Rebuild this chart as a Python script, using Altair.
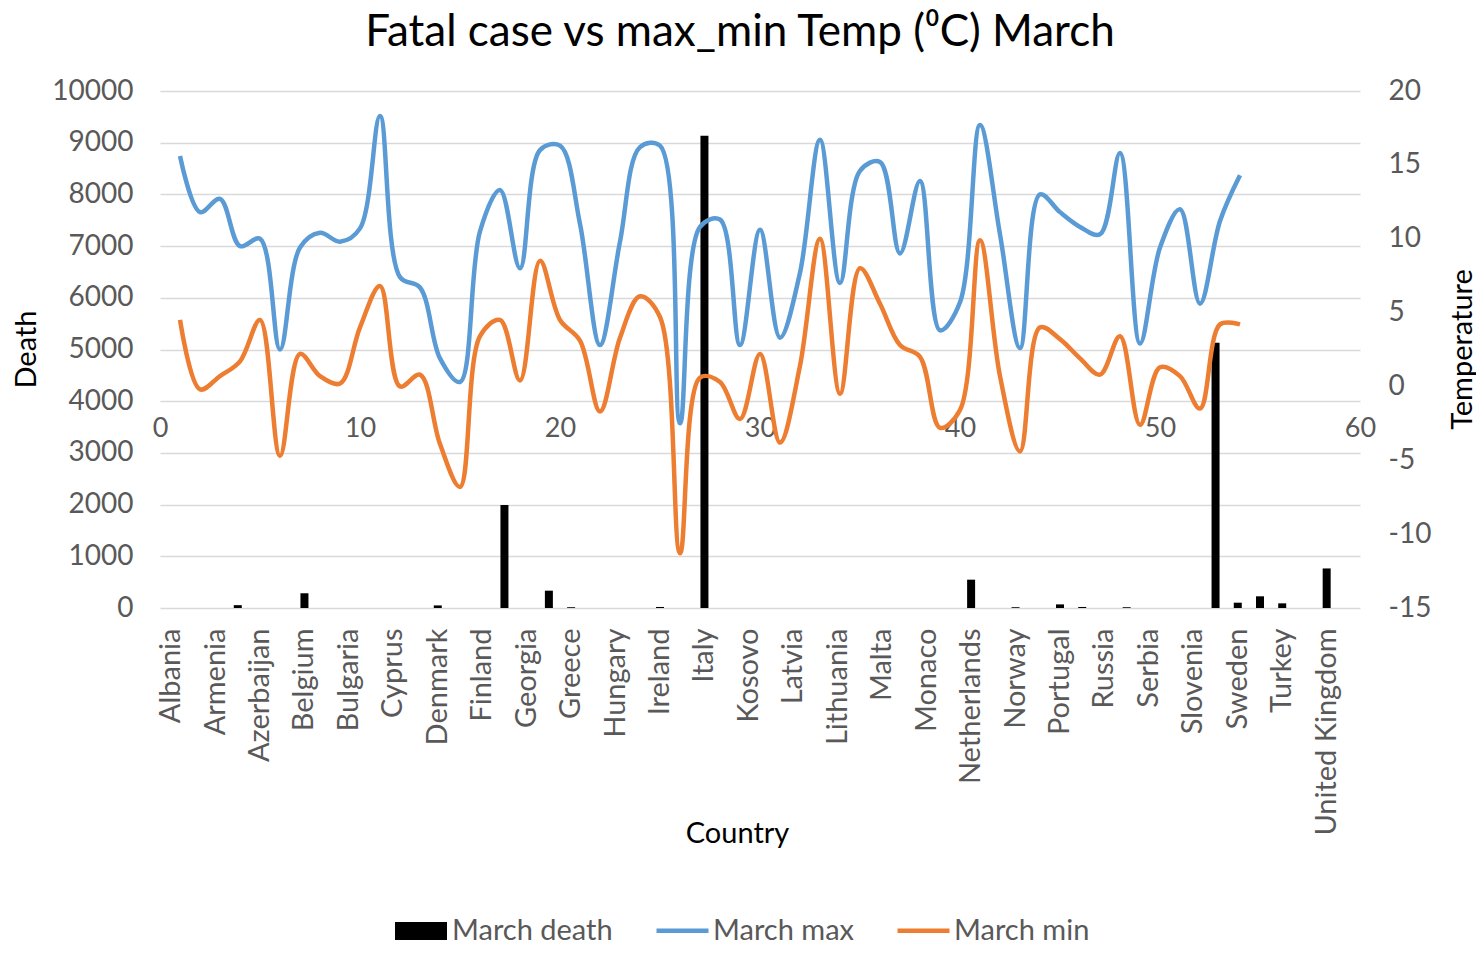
import altair as alt
import pandas as pd

countries = [
    "Albania", "Andorra", "Armenia", "Austria", "Azerbaijan", "Belarus",
    "Belgium", "Bosnia and Herzegovina", "Bulgaria", "Croatia", "Cyprus",
    "Czechia", "Denmark", "Estonia", "Finland", "France", "Georgia",
    "Germany", "Greece", "Holy See", "Hungary", "Iceland", "Ireland",
    "Israel", "Italy", "Kazakhstan", "Kosovo", "Kyrgyzstan", "Latvia",
    "Liechtenstein", "Lithuania", "Luxembourg", "Malta", "Moldova", "Monaco",
    "Montenegro", "Netherlands", "North Macedonia", "Norway", "Poland",
    "Portugal", "Romania", "Russia", "San Marino", "Serbia", "Slovakia",
    "Slovenia", "Spain", "Sweden", "Switzerland", "Turkey", "Ukraine",
    "United Kingdom", "Uzbekistan",
]
march_death = [
    0, 0, 0, 55, 0, 0, 285, 0, 0, 0, 0, 0, 50, 0, 0, 1990, 0, 335, 15, 0,
    0, 0, 20, 0, 9135, 0, 0, 0, 0, 0, 0, 0, 0, 0, 0, 0, 548, 0, 15, 0,
    70, 20, 0, 15, 0, 0, 0, 5130, 103, 226, 90, 0, 765, 0,
]
temp_x = list(range(1, 55))
march_max = [
    15.6, 11.8, 12.7, 9.5, 10.0, 2.5, 9.4, 10.4, 9.8, 10.7,
    18.3, 7.4, 6.7, 1.9, 0.3, 10.5, 13.3, 8.0, 16.0, 16.3,
    11.0, 2.8, 9.8, 16.2, 16.3, -2.5, 10.8, 11.3, 2.8, 10.6,
    3.3, 7.7, 16.7, 7.0, 14.6, 15.2, 9.0, 13.9, 3.8, 5.7,
    17.7, 10.3, 2.6, 13.0, 11.8, 10.8, 10.3, 15.8, 2.9, 9.4,
    12.0, 5.6, 11.2, 14.3,
]
march_min = [
    4.5, -0.2, 0.7, 1.7, 4.5, -4.7, 2.2, 0.7, 0.2, 4.0,
    6.8, 0.0, 0.8, -3.9, -6.8, 3.4, 4.5, 0.4, 8.5, 4.5,
    3.1, -1.7, 3.3, 6.1, 4.7, -11.3, 0.6, 0.3, -2.2, 2.2,
    -3.8, 1.4, 10.0, -0.5, 8.0, 5.6, 2.8, 2.0, -2.8, -1.6,
    9.9, 0.7, -4.4, 4.0, 3.2, 1.9, 0.8, 3.4, -2.6, 1.3,
    0.7, -1.5, 4.2, 4.2,
]
death_ticks = list(range(0, 10001, 1000))
temp_ticks = list(range(-15, 21, 5))
x2_ticks = list(range(0, 61, 10))
shown_countries = countries[::2]

bar_df = pd.DataFrame({"Country": countries, "Death": march_death,
                       "series": ["March death"] * len(countries)})
line_df = pd.DataFrame({
    "x": temp_x + temp_x,
    "Temperature": march_max + march_min,
    "series": ["March max"] * len(temp_x) + ["March min"] * len(temp_x),
})

FONT = "Lato"
GRAY = "#595959"
PLAIN = "'' + datum.value"

bars = alt.Chart(bar_df).mark_bar(size=8, color="black").encode(
    x=alt.X("Country:N", sort=countries, scale=alt.Scale(domain=countries),
            axis=alt.Axis(title="Country", values=shown_countries, labelAngle=-90,
                          labelFontSize=29, labelPadding=20, labelLimit=400,
                          labelOverlap=False, ticks=False, domain=False,
                          titleX=577, titleY=225, titleBaseline="middle",
                          titleAlign="center")),
    y=alt.Y("Death:Q", scale=alt.Scale(domain=[0, 10000], nice=False),
            axis=alt.Axis(title="Death", values=death_ticks, labelExpr=PLAIN, grid=True,
                          gridColor="#D9D9D9", gridWidth=1.3, domain=False,
                          ticks=False, labelPadding=27, labelFontSize=28,
                          titleX=-134, titleY=258,
                          titleAngle=-90, titleBaseline="middle", titleAlign="center")),
    fill=alt.Fill("series:N", scale=alt.Scale(domain=["March death"], range=["black"]),
                  legend=alt.Legend(orient="none", legendX=235, legendY=814,
                                    title=None, direction="horizontal",
                                    symbolType="M-1,-0.35H1V0.35H-1Z",
                                    symbolSize=2704, symbolStrokeWidth=0,
                                    labelFontSize=29, labelColor=GRAY, labelFont=FONT,
                                    labelOffset=5, labelLimit=400, padding=0)),
)

lines = alt.Chart(line_df).mark_line(interpolate="catmull-rom", strokeWidth=4.5).encode(
    x=alt.X("x:Q", scale=alt.Scale(domain=[0, 60], nice=False, zero=False),
            axis=alt.Axis(orient="top", offset=-337, values=x2_ticks, domain=False,
                          ticks=False, grid=False, labelPadding=0,
                          labelBaseline="middle", labelFlush=False, title=None)),
    y=alt.Y("Temperature:Q", scale=alt.Scale(domain=[-15, 20], nice=False, zero=False),
            axis=alt.Axis(orient="right", title="Temperature", values=temp_ticks,
                          labelExpr=PLAIN, grid=False, domain=False, ticks=False,
                          labelPadding=28, labelFontSize=28, titleX=102, titleY=258,
                          titleAngle=-90, titleBaseline="middle", titleAlign="center")),
    stroke=alt.Stroke("series:N",
                      scale=alt.Scale(domain=["March max", "March min"],
                                      range=["#5B9BD5", "#ED7D31"]),
                      legend=alt.Legend(orient="none", legendX=494, legendY=811,
                                        title=None, direction="horizontal",
                                        symbolType="stroke", symbolSize=2704,
                                        symbolStrokeWidth=4.5, columnPadding=33,
                                        labelFontSize=29, labelColor=GRAY,
                                        labelFont=FONT, labelOffset=2,
                                        labelLimit=400, padding=0)),
)

chart = alt.layer(bars, lines).resolve_scale(
    x="independent", y="independent", fill="independent", stroke="independent"
).resolve_axis(x="independent", y="independent").properties(
    width=1200, height=517,
    padding={"left": 152, "top": 83, "right": 116, "bottom": 340},
    autosize=alt.AutoSizeParams(type="none"),
    title=alt.TitleParams("Fatal case vs max_min Temp (\u2070C) March", font=FONT,
                          fontSize=44, fontWeight="normal", color="black",
                          anchor="middle", frame="group", dx=-20, offset=-13,
                          baseline="alphabetic"),
).configure_view(stroke=None).configure_axis(
    labelFont=FONT, labelFontSize=27, labelColor=GRAY,
    titleFont=FONT, titleFontSize=29, titleColor="black", titleFontWeight="normal",
)

chart.save("out.html", embed_options={"renderer": "svg", "actions": False})
